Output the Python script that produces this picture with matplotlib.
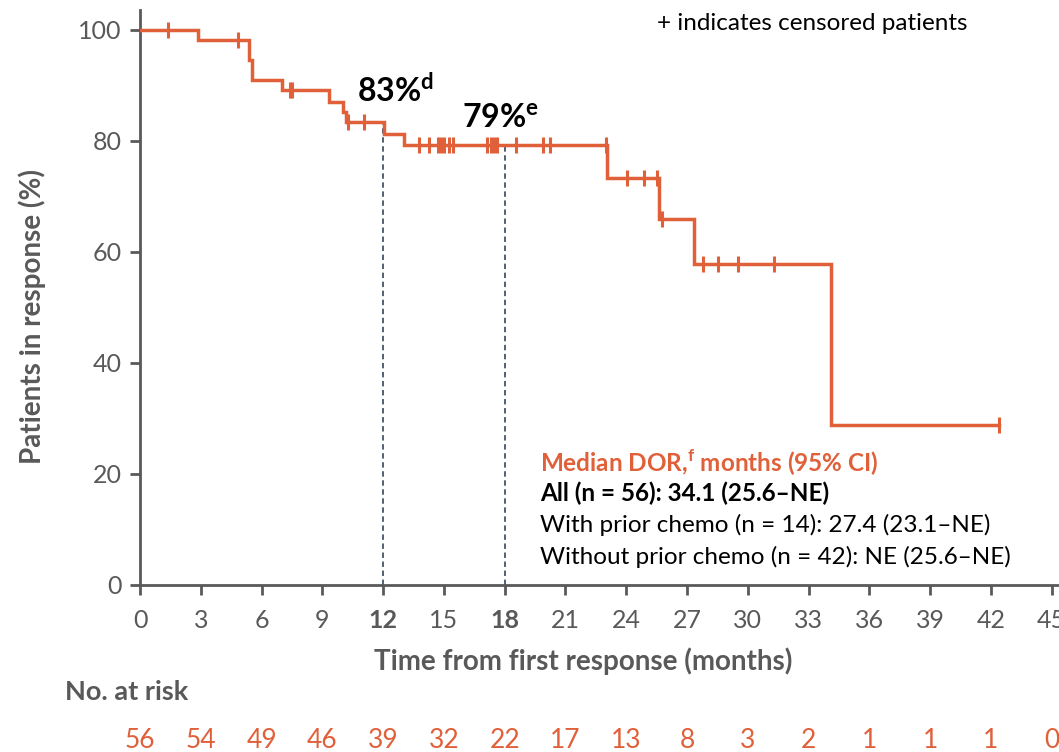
import numpy as np
import matplotlib
matplotlib.use("Agg")
import matplotlib.pyplot as plt

plt.rcParams['font.family'] = ['Lato', 'DejaVu Sans']
plt.rcParams['mathtext.fontset'] = 'custom'
plt.rcParams['mathtext.rm'] = 'Lato'
plt.rcParams['mathtext.bf'] = 'Lato:bold'

# step curve: event times (months) and survival after each event (%)
event_t = [0, 2.86, 5.38, 5.52, 6.99, 9.32, 10.03, 10.16, 12.04, 13.03, 23.05, 25.62, 27.33, 34.12]
event_s = [100, 98.2, 94.6, 90.9, 89.1, 87.1, 85.3, 83.5, 81.3, 79.2, 73.3, 66.0, 57.8, 28.9]
t_end = 42.4

censor_t = [1.40, 4.83, 7.40, 7.50, 10.25, 11.07, 13.76, 14.26, 14.7, 14.85, 15.0, 15.26, 15.46,
            17.13, 17.3, 17.45, 17.6, 18.58, 19.9, 20.26, 22.99, 24.04, 24.88, 25.52, 25.75,
            27.8, 28.53, 29.52, 31.29, 42.4]

x_ticks = list(range(0, 46, 3))
at_risk = [56, 54, 49, 46, 39, 32, 22, 17, 13, 8, 3, 2, 1, 1, 1, 0]

orange = '#E0603A'
gray = '#595959'
slate = '#44546A'

fig = plt.figure(figsize=(10.59, 7.52), dpi=100)
ax = fig.add_axes([140 / 1059, 167 / 752, 932 / 1059, 575 / 752])

# KM curve
ts = event_t + [t_end]
ss = event_s + [event_s[-1]]
ax.step(ts, ss, where='post', color=orange, lw=2.5, solid_joinstyle='miter', zorder=3)

# censor marks on the curve
idx = np.searchsorted(event_t, censor_t, side='right') - 1
censor_s = np.array(event_s)[idx]
ax.plot(censor_t, censor_s, ls='none', marker='|', ms=12, mew=2.2, color=orange, zorder=4)

# landmark lines
for t_mark in (12, 18):
    s_mark = event_s[np.searchsorted(event_t, t_mark, side='right') - 1]
    ax.plot([t_mark, t_mark], [0, s_mark], ls=(0, (3, 2)), color=slate, lw=1.3, zorder=2)

ax.text(12.6, 89.2, r'83%$^{\mathbf{d}}$', fontsize=23, fontweight='bold', ha='center', va='center')
ax.text(17.8, 84.1, r'79%$^{\mathbf{e}}$', fontsize=23, fontweight='bold', ha='center', va='center')

# axes styling
ax.set_xlim(0, 46)
ax.set_ylim(0, 103.6)
for sp in ('top', 'right'):
    ax.spines[sp].set_visible(False)
for sp in ('left', 'bottom'):
    ax.spines[sp].set_color(gray)
    ax.spines[sp].set_linewidth(2)
ax.set_xticks(x_ticks)
ax.set_yticks([0, 20, 40, 60, 80, 100])
ax.tick_params(axis='both', colors=gray, width=2, length=7, labelsize=18, labelcolor=gray)
ax.tick_params(axis='x', pad=10)
ax.tick_params(axis='y', pad=6)
for lbl in ax.get_xticklabels():
    if lbl.get_text() in ('12', '18'):
        lbl.set_fontweight('bold')

fig.text(583 / 1059, 1 - 661 / 752, 'Time from first response (months)', fontsize=20,
         fontweight='bold', color=gray, ha='center', va='center')
fig.text(32 / 1059, 1 - 317 / 752, 'Patients in response (%)', fontsize=20, fontweight='bold',
         color=gray, rotation=90, ha='center', va='center')

# note on censor marks
fig.text(657 / 1059, 1 - 24 / 752, '+ indicates censored patients', fontsize=17.5, va='center', ha='left')

# median DOR box
fx = 540 / 1059
fig.text(fx, 1 - 463 / 752, r'Median DOR,$^{\mathbf{f}}$ months (95% CI)', fontsize=17.5, color=orange,
         fontweight='bold', va='center')
fig.text(fx, 1 - 493 / 752, 'All (n = 56): 34.1 (25.6–NE)', fontsize=17.5, fontweight='bold', va='center')
fig.text(fx, 1 - 525 / 752, 'With prior chemo (n = 14): 27.4 (23.1–NE)', fontsize=17.5, va='center')
fig.text(fx, 1 - 557 / 752, 'Without prior chemo (n = 42): NE (25.6–NE)', fontsize=17.5, va='center')

# numbers at risk
fig.text(65 / 1059, 1 - 692 / 752, 'No. at risk', fontsize=19.5, fontweight='bold', color=gray, va='center')
for xt, n in zip(x_ticks, at_risk):
    ax.annotate(str(n), xy=(xt, 0), xycoords=('data', 'figure fraction'),
                xytext=(xt, 1 - 740 / 752), textcoords=('data', 'figure fraction'),
                fontsize=19, color=orange, ha='center', va='center', annotation_clip=False)

fig.savefig('out.png', dpi=100)
